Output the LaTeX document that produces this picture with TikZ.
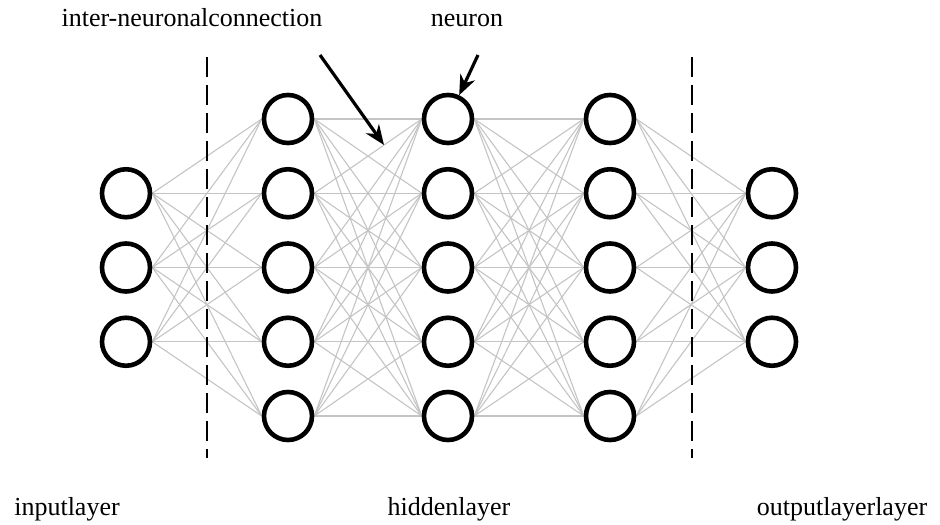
\documentclass[tikz,border=0pt]{standalone}
\usepackage{fontspec}
\setmainfont{Liberation Serif}
\usetikzlibrary{arrows.meta,backgrounds}
\definecolor{nnEdge}{HTML}{C4C4C4}

\begin{document}
\begin{tikzpicture}[x=0.5pt, y=-0.5pt,
  neuron/.style={circle, draw=black, fill=white, line width=2.3pt,
                 minimum size=24pt, inner sep=0pt},
  link/.style={draw=nnEdge, line width=0.55pt},
  divider/.style={draw=black, line width=1.1pt, dash pattern=on 10pt off 4pt},
  pointer/.style={draw=black, line width=1.6pt, -{Stealth[length=10pt, width=8pt]}},
  lab/.style={font=\fontsize{13}{15}\selectfont, anchor=base, inner sep=0pt},
]

\def\dy{74.25}   % row spacing, px
\useasboundingbox (0,0) rectangle (940,524);

% neurons: input, three hidden columns, output
\foreach \i in {1,2,3} {
  \node[neuron] (in\i) at (126,119+\i*\dy) {};
  \node[neuron] (out\i) at (772,119+\i*\dy) {};
}
\foreach \c/\xc in {1/288, 2/448, 3/610} {
  \foreach \r in {1,...,5}
    \node[neuron] (h\c\r) at (\xc,119+\r*\dy-\dy) {};
}

% connections, behind the neurons
\begin{scope}[on background layer]
  \foreach \i in {1,2,3}
    \foreach \r in {1,...,5} {
      \draw[link] (in\i.east) -- (h1\r.west);
      \draw[link] (h3\r.east) -- (out\i.west);
    }
  \foreach \a/\b in {1/2, 2/3}
    \foreach \r in {1,...,5}
      \foreach \s in {1,...,5}
        \draw[link] (h\a\r.east) -- (h\b\s.west);
\end{scope}

% layer dividers
\draw[divider] (207,57) -- (207,458);
\draw[divider] (692,57) -- (692,458);

% labels
\node[lab] (conlab) at (192,27) {inter-neuronalconnection};
\node[lab] (neulab) at (467,27) {neuron};
\node[lab] (inlab) at (67,515) {inputlayer};
\node[lab] (hidlab) at (449,515) {hiddenlayer};
\node[lab] (outlab) at (842,515) {outputlayerlayer};

% pointers
\coordinate (constart) at (320,55);
\coordinate (conend) at (384,145);
\coordinate (neustart) at (478,55);
\draw[pointer] (constart) -- (conend);
\draw[pointer] (neustart) -- (h21);

\end{tikzpicture}
\end{document}
